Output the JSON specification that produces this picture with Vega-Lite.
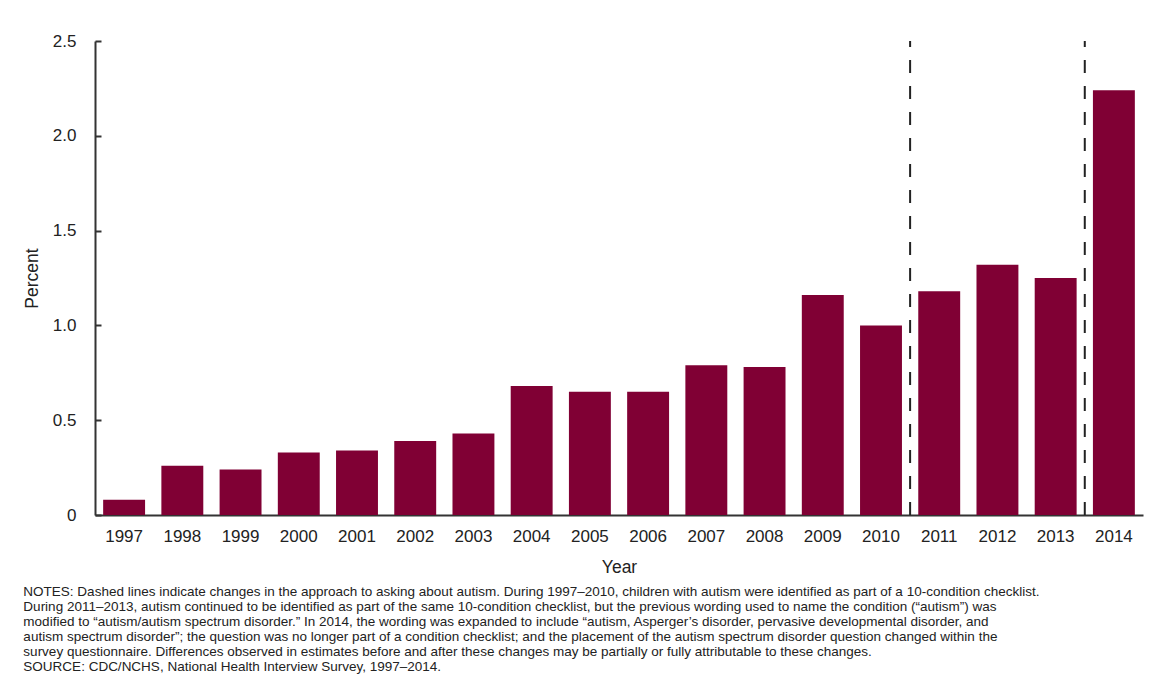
{
  "$schema": "https://vega.github.io/schema/vega-lite/v6.json",
  "width": 1048,
  "height": 474,
  "autosize": "none",
  "padding": {"left": 95, "top": 41, "right": 7, "bottom": 176},
  "background": "white",
  "config": {
    "font": "Liberation Sans",
    "view": {"stroke": null},
    "axis": {"grid": false, "labelFont": "Liberation Sans", "titleFont": "Liberation Sans", "labelColor": "#222", "titleColor": "#222", "domainColor": "#333", "domainWidth": 2}
  },
  "title": {
    "text": [
      "NOTES: Dashed lines indicate changes in the approach to asking about autism. During 1997–2010, children with autism were identified as part of a 10-condition checklist.",
      "During 2011–2013, autism continued to be identified as part of the same 10-condition checklist, but the previous wording used to name the condition (“autism”) was",
      "modified to “autism/autism spectrum disorder.” In 2014, the wording was expanded to include “autism, Asperger’s disorder, pervasive developmental disorder, and",
      "autism spectrum disorder”; the question was no longer part of a condition checklist; and the placement of the autism spectrum disorder question changed within the",
      "survey questionnaire. Differences observed in estimates before and after these changes may be partially or fully attributable to these changes.",
      "SOURCE: CDC/NCHS, National Health Interview Survey, 1997–2014."
    ],
    "orient": "bottom",
    "anchor": "start",
    "frame": "bounds",
    "fontSize": 13.5,
    "fontWeight": "normal",
    "lineHeight": 15,
    "color": "#222",
    "offset": 9
  },
  "layer": [
    {
      "data": {"values": [
        {"year": "1997", "pct": 0.08},
        {"year": "1998", "pct": 0.26},
        {"year": "1999", "pct": 0.24},
        {"year": "2000", "pct": 0.33},
        {"year": "2001", "pct": 0.34},
        {"year": "2002", "pct": 0.39},
        {"year": "2003", "pct": 0.43},
        {"year": "2004", "pct": 0.68},
        {"year": "2005", "pct": 0.65},
        {"year": "2006", "pct": 0.65},
        {"year": "2007", "pct": 0.79},
        {"year": "2008", "pct": 0.78},
        {"year": "2009", "pct": 1.16},
        {"year": "2010", "pct": 1.00},
        {"year": "2011", "pct": 1.18},
        {"year": "2012", "pct": 1.32},
        {"year": "2013", "pct": 1.25},
        {"year": "2014", "pct": 2.24}
      ]},
      "mark": {"type": "bar", "color": "#800034"},
      "encoding": {
        "x": {
          "field": "year", "type": "ordinal", "sort": null,
          "scale": {"paddingInner": 0.28, "paddingOuter": 0.14},
          "axis": {"title": "Year", "labelAngle": 0, "ticks": false, "labelPadding": 13, "labelFontSize": 17, "titleFontSize": 17.5, "titleFontWeight": "normal", "titlePadding": 14}
        },
        "y": {
          "field": "pct", "type": "quantitative",
          "scale": {"domain": [0, 2.5], "nice": false},
          "axis": {"title": "Percent", "values": [0, 0.5, 1, 1.5, 2, 2.5], "labelExpr": "datum.value == 0 ? '0' : format(datum.value, '.1f')", "tickSize": -6, "tickWidth": 2, "tickColor": "#333", "labelPadding": 25, "labelFontSize": 17, "titleFontSize": 17.5, "titleFontWeight": "normal", "titlePadding": 11}
        }
      }
    },
    {
      "data": {"values": [{"boundary": 14}, {"boundary": 17}]},
      "mark": {"type": "rule", "color": "#222", "strokeWidth": 2, "strokeDash": [13, 13]},
      "encoding": {
        "x": {"field": "boundary", "type": "quantitative", "scale": {"domain": [0, 18], "nice": false, "zero": false}, "axis": null},
        "y": {"datum": 0},
        "y2": {"datum": 2.5}
      }
    }
  ],
  "resolve": {"scale": {"x": "independent"}}
}
